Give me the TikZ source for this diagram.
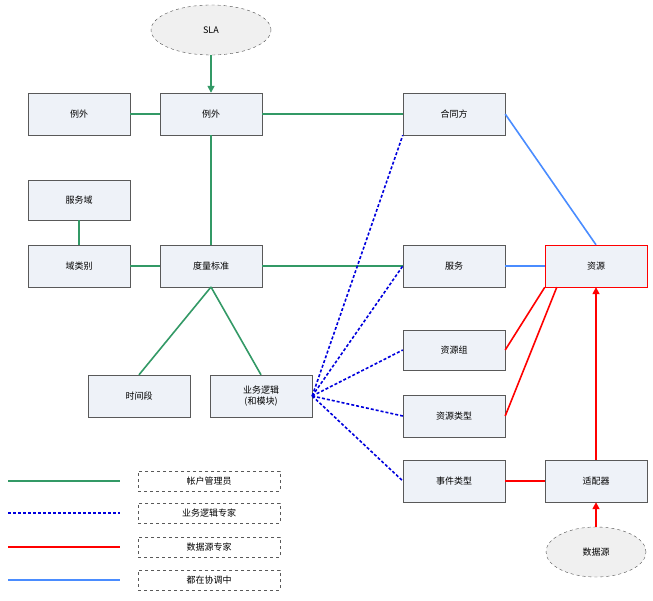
\documentclass[tikz,border=0pt]{standalone}
\usepackage{fontspec}
\setmainfont{Noto Sans CJK SC}
\usetikzlibrary{shapes.geometric,arrows.meta}
\definecolor{gr}{HTML}{339966}
\definecolor{bl}{HTML}{0000DD}
\definecolor{lb}{HTML}{4A8CFF}
\definecolor{bx}{HTML}{EEF2F8}
\begin{document}
\begin{tikzpicture}[x=1pt,y=-1pt,font=\fontsize{9}{11}\selectfont,
 box/.style={draw=gray!70!black,fill=bx,minimum width=102pt,minimum height=42pt,inner sep=1pt,align=center},
 ell/.style={ellipse,draw=gray!60!black,dashed,fill=gray!12,minimum width=#1,minimum height=50pt},
 lg/.style={draw=gray!70!black,dashed,minimum width=142pt,minimum height=20pt,inner sep=1pt},
 g/.style={draw=gr,line width=1.6pt},
 b/.style={draw=bl,line width=1.6pt,dash pattern=on 3pt off 2pt},
 r/.style={draw=red,line width=1.6pt},
 l/.style={draw=lb,line width=1.6pt}]
\useasboundingbox (0,0) rectangle (653,601);
\node[ell=120pt] (sla) at (211,30) {SLA};
\node[box] (lw) at (79,114) {例外};
\node[box] (ex) at (211,114) {例外};
\node[box] (ht) at (454,114) {合同方};
\node[box,minimum height=40pt] (fwy) at (79,200) {服务域};
\node[box] (ylb) at (79,266) {域类别};
\node[box] (dl) at (211,266) {度量标准};
\node[box] (fw) at (454,266) {服务};
\node[box,draw=red] (zy) at (596,266) {资源};
\node[box,minimum height=40pt] (zyz) at (454,350) {资源组};
\node[box] (zylx) at (454,416) {资源类型};
\node[box] (sjd) at (139,396) {时间段};
\node[box] (yw) at (261,396) {业务逻辑\\(和模块)};
\node[box] (sj) at (454,481) {事件类型};
\node[box] (spq) at (596,481) {适配器};
\node[ell=100pt] (sjy) at (596,552) {数据源};
% green
\draw[g,-{Triangle[length=7pt,width=7pt]}] (sla) -- (ex);
\draw[g] (lw) -- (ex);
\draw[g] (ex) -- (ht);
\draw[g] (ex) -- (dl);
\draw[g] (fwy) -- (ylb);
\draw[g] (ylb) -- (dl);
\draw[g] (dl) -- (fw);
\coordinate (dlb) at (211,287);
\draw[g] (dlb) -- (sjd.north);
\draw[g] (dlb) -- (yw.north);
% blue dotted
\foreach \t in {ht.south west,fw.west,zyz.west,zylx.west,sj.west}
  \draw[b] (yw.east) -- (\t);
% light blue
\draw[l] (ht.east) -- (zy.north);
\draw[l] (fw) -- (zy);
% red
\draw[r] (zyz.east) -- (zy.south west);
\draw[r] (zylx.east) -- ([xshift=12pt]zy.south west);
\draw[r] (sj) -- (spq);
\draw[r,-{Triangle[length=7pt,width=7pt]}] (spq) -- (zy);
\draw[r,-{Triangle[length=7pt,width=7pt]}] (sjy) -- (spq);
% legend
\coordinate (a1) at (8,481); \coordinate (a2) at (120,481);
\coordinate (b1) at (8,513); \coordinate (b2) at (120,513);
\coordinate (c1) at (8,547); \coordinate (c2) at (120,547);
\coordinate (d1) at (8,580); \coordinate (d2) at (120,580);
\draw[g] (a1) -- (a2); \draw[b] (b1) -- (b2); \draw[r] (c1) -- (c2); \draw[l] (d1) -- (d2);
\node[lg] (t1) at (209,481) {帐户管理员};
\node[lg] (t2) at (209,513) {业务逻辑专家};
\node[lg] (t3) at (209,547) {数据源专家};
\node[lg] (t4) at (209,580) {都在协调中};
\end{tikzpicture}
\end{document}
